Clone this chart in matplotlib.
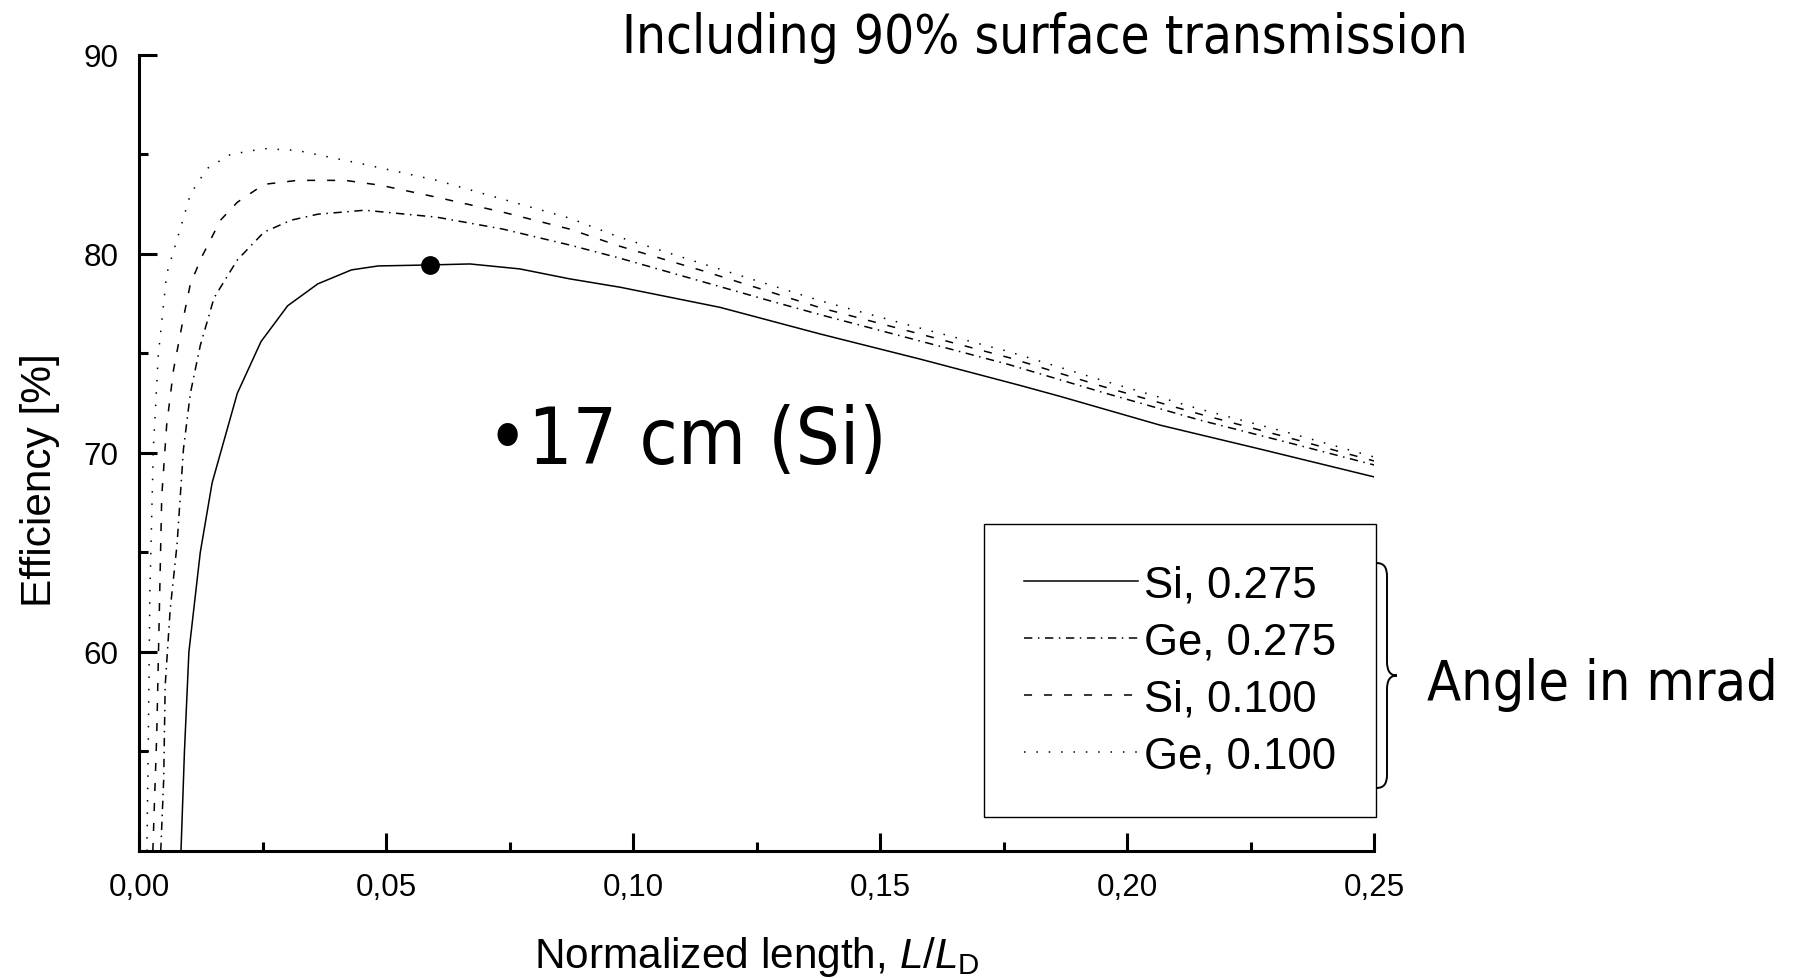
import matplotlib
matplotlib.use("Agg")
import matplotlib.pyplot as plt
from matplotlib.path import Path
from matplotlib.patches import PathPatch
from matplotlib.ticker import FixedLocator, FuncFormatter

# ---------------- data ----------------
si275_x = [0.0085, 0.0092, 0.0101, 0.0124, 0.0148, 0.0199, 0.0247, 0.0301, 0.0362, 0.0430,
           0.0484, 0.0589, 0.0670, 0.0771, 0.0872, 0.0974, 0.1176, 0.1379, 0.1581, 0.1783,
           0.1864, 0.2067, 0.2269, 0.2500]
si275_y = [50.0, 55.0, 60.0, 65.0, 68.5, 73.0, 75.6, 77.4, 78.5, 79.2,
           79.4, 79.45, 79.5, 79.25, 78.75, 78.33, 77.32, 75.98, 74.72, 73.4,
           72.85, 71.4, 70.2, 68.8]

ge275_x = [0.0044, 0.0050, 0.0053, 0.0063, 0.0077, 0.0090, 0.0104, 0.0124, 0.0152, 0.0199,
           0.0253, 0.0308, 0.0362, 0.0457, 0.0603, 0.0737, 0.0872, 0.0972, 0.1142, 0.1277,
           0.1379, 0.1570, 0.1760, 0.1950, 0.2148, 0.2330, 0.2500]
ge275_y = [50.0, 53.6, 58.3, 62.1, 65.4, 70.2, 73.0, 75.4, 77.8, 79.7,
           81.1, 81.7, 82.0, 82.2, 81.85, 81.25, 80.45, 79.8, 78.6, 77.65,
           76.95, 75.7, 74.45, 73.05, 71.65, 70.5, 69.4]

si100_x = [0.0028, 0.0036, 0.0046, 0.0056, 0.0070, 0.0090, 0.0104, 0.0128, 0.0165, 0.0199,
           0.0253, 0.0321, 0.0417, 0.0490, 0.0603, 0.0737, 0.0872, 0.0972, 0.1142, 0.1277,
           0.1379, 0.1570, 0.1760, 0.1950, 0.2148, 0.2330, 0.2500]
si100_y = [50.0, 55.9, 67.8, 71.4, 74.2, 76.8, 78.5, 79.9, 81.7, 82.6,
           83.5, 83.7, 83.7, 83.45, 82.85, 82.1, 81.25, 80.4, 79.15, 78.1,
           77.3, 76.05, 74.8, 73.35, 71.95, 70.75, 69.6]

ge100_x = [0.0016, 0.0019, 0.0022, 0.0029, 0.0039, 0.0056, 0.0084, 0.0104, 0.0138, 0.0185,
           0.0253, 0.0321, 0.0457, 0.0603, 0.0737, 0.0872, 0.0972, 0.1142, 0.1277, 0.1379,
           0.1570, 0.1760, 0.1950, 0.2148, 0.2330, 0.2500]
ge100_y = [50.0, 55.9, 63.0, 70.2, 74.9, 79.0, 81.3, 83.0, 84.3, 85.0,
           85.3, 85.2, 84.5, 83.7, 82.75, 81.8, 80.85, 79.5, 78.45, 77.65,
           76.35, 75.1, 73.65, 72.2, 71.0, 69.8]

labels = ["Si, 0.275", "Ge, 0.275", "Si, 0.100", "Ge, 0.100"]

marker_x = [0.0589]
marker_y = [79.45]

x_major = [0.00, 0.05, 0.10, 0.15, 0.20, 0.25]
x_minor = [0.025, 0.075, 0.125, 0.175, 0.225]
y_major = [60, 70, 80, 90]
y_minor = [55, 65, 75, 85]

# ---------------- style ----------------
plt.rcParams["lines.scale_dashes"] = False
plt.rcParams["mathtext.fontset"] = "custom"
plt.rcParams["mathtext.rm"] = "Liberation Sans"
plt.rcParams["mathtext.it"] = "Liberation Sans:italic"
ARIAL = "Liberation Sans"
NARROW = dict(family="DejaVu Sans", stretch="condensed")

W, H = 1793, 979
fig = plt.figure(figsize=(W / 100, H / 100), dpi=100)
ax = fig.add_axes([139 / W, 1 - 852 / H, (1374 - 139) / W, (852 - 56) / H])

lw = 1.1
styles = [
    dict(linestyle="-"),
    dict(linestyle=(0, (6.0, 4.0, 1.1, 4.0))),
    dict(linestyle=(0, (5.8, 8.6))),
    dict(linestyle=(0, (1.1, 7.8))),
]
series = [(si275_x, si275_y), (ge275_x, ge275_y), (si100_x, si100_y), (ge100_x, ge100_y)]
handles = []
for (xs, ys), st, lab in zip(series, styles, labels):
    h, = ax.plot(xs, ys, color="black", lw=lw, label=lab, clip_on=True, **st)
    handles.append(h)

ax.plot(marker_x, marker_y, "o", color="black", markersize=12.5, zorder=5)

ax.set_xlim(0, 0.25)
ax.set_ylim(50, 90)
for s in ["top", "right"]:
    ax.spines[s].set_visible(False)
for s in ["left", "bottom"]:
    ax.spines[s].set_linewidth(2.2)

ax.xaxis.set_major_locator(FixedLocator(x_major))
ax.xaxis.set_minor_locator(FixedLocator(x_minor))
ax.yaxis.set_major_locator(FixedLocator(y_major))
ax.yaxis.set_minor_locator(FixedLocator(y_minor))
ax.xaxis.set_major_formatter(FuncFormatter(lambda v, p: f"{v:.2f}".replace(".", ",")))
ax.yaxis.set_major_formatter(FuncFormatter(lambda v, p: f"{v:.0f}"))
ax.tick_params(which="major", direction="in", length=13, width=2.2, labelsize=22.6, pad=15)
ax.tick_params(which="minor", direction="in", length=6.5, width=2.2)
for t in ax.get_xticklabels() + ax.get_yticklabels():
    t.set_fontfamily(ARIAL)

ax.set_xlabel(r"Normalized length, $\mathit{L}/\mathit{L}_{\mathrm{D}}$", fontsize=30.5, family=ARIAL)
ax.set_ylabel("Efficiency [%]", fontsize=30.5, family=ARIAL)
ax.xaxis.set_label_coords(0.5, -0.104)
ax.yaxis.set_label_coords(-0.064, 0.467)

leg = ax.legend(handles=handles, labels=labels, loc="upper right", bbox_to_anchor=(1.002, 0.411),
                frameon=True, fancybox=False, edgecolor="black", framealpha=1,
                borderpad=0.92, handlelength=2.6, handletextpad=0.15, labelspacing=0.37,
                borderaxespad=0, prop=dict(family=ARIAL, size=31.5))
leg.get_frame().set_linewidth(1.0)

fig.text(1045 / W, 1 - 52.6 / H, "Including 90% surface transmission", ha="center", va="baseline",
         fontsize=38, **NARROW)
ax.text(0.0705, 69.5, "\u202217 cm (Si)", ha="left", va="baseline", fontsize=56, **NARROW)
fig.text(1427 / W, 1 - 700 / H, "Angle in mrad", ha="left", va="baseline", fontsize=40, **NARROW)

# brace
pts = [(1376, 564), (1384, 564), (1387, 568), (1387, 578), (1387, 662),
       (1387, 672), (1390, 676.5), (1397, 676.5),
       (1397, 676.5), (1390, 676.5), (1387, 681), (1387, 691), (1387, 775),
       (1387, 785), (1384, 789), (1376, 789)]
codes = [Path.MOVETO, Path.CURVE4, Path.CURVE4, Path.CURVE4, Path.LINETO,
         Path.CURVE4, Path.CURVE4, Path.CURVE4,
         Path.MOVETO, Path.CURVE4, Path.CURVE4, Path.CURVE4, Path.LINETO,
         Path.CURVE4, Path.CURVE4, Path.CURVE4]
verts = [(px / W, 1 - py / H) for px, py in pts]
fig.patches.append(PathPatch(Path(verts, codes), transform=fig.transFigure, facecolor="none",
                             edgecolor="black", lw=1.4))

fig.savefig("out.png", dpi=100)
